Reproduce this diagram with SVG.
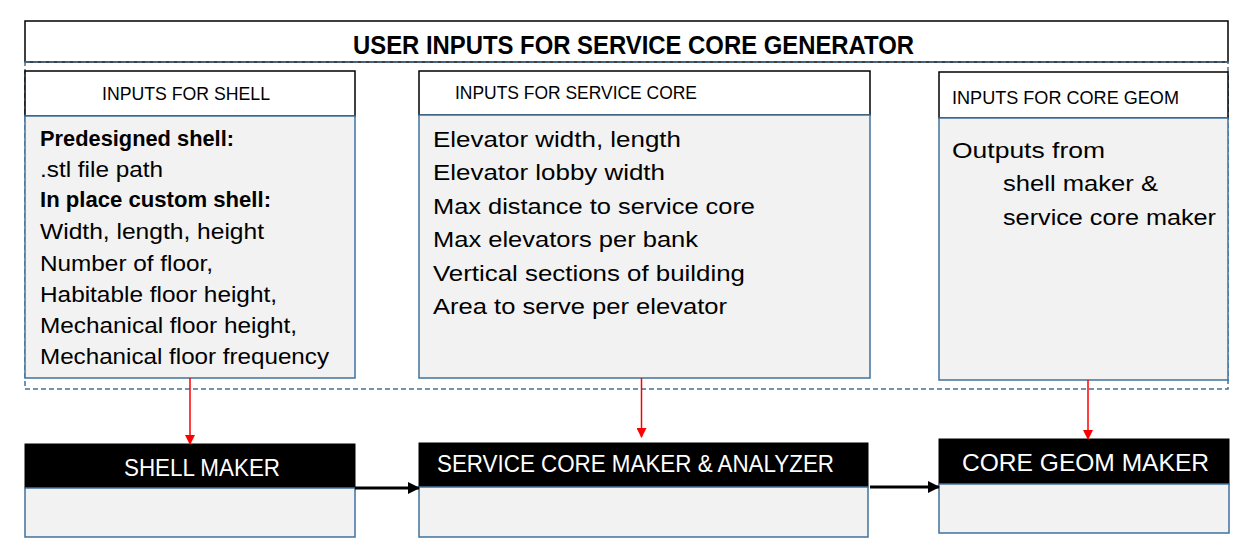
<svg xmlns="http://www.w3.org/2000/svg" width="1253" height="559" viewBox="0 0 1253 559">
<style>
text{font-family:"Liberation Sans",Arial,sans-serif;fill:#000}
.hdr{fill:#fff;stroke:#000;stroke-width:1.5}
.body{fill:#f2f2f2;stroke:#41719c;stroke-width:1.5}
.blk{fill:#000;stroke:#000;stroke-width:1}
.h{font-size:18.5px}
.t{font-size:22px}
.b{font-size:22px;font-weight:bold}
.w{font-size:24px;fill:#fff}
.red{stroke:#ff0000;stroke-width:1.5;fill:none}
.arr{stroke:#000;stroke-width:3;fill:none}
</style>
<defs>
<marker id="ra" markerWidth="10" markerHeight="10" refX="9" refY="5" orient="auto" markerUnits="userSpaceOnUse"><path d="M0,0 L10,5 L0,10 Z" fill="#ff0000"/></marker>
<marker id="ba" markerWidth="12" markerHeight="12" refX="11" refY="6" orient="auto" markerUnits="userSpaceOnUse"><path d="M0,0 L12,6 L0,12 Z" fill="#000"/></marker>
</defs>
<rect width="1253" height="559" fill="#fff"/>
<g id="title">
<rect x="25" y="21" width="1203" height="41" fill="#fff" stroke="#000" stroke-width="1.5"/>
<text x="353" y="54" font-size="26" font-weight="bold" textLength="561" lengthAdjust="spacingAndGlyphs">USER INPUTS FOR SERVICE CORE GENERATOR</text>
</g>
<g id="container">
<rect x="25" y="62" width="1203" height="327" fill="none" stroke="#41719c" stroke-width="1.5" stroke-dasharray="5,3"/>
</g>
<g id="inputs-shell">
<rect class="hdr" x="25" y="71" width="330" height="45"/>
<text class="h" x="102" y="100" textLength="168" lengthAdjust="spacingAndGlyphs">INPUTS FOR SHELL</text>
<rect class="body" x="25" y="116" width="330" height="262"/>
<text class="b" x="40" y="146" textLength="194" lengthAdjust="spacingAndGlyphs">Predesigned shell:</text>
<text class="t" x="40" y="177" textLength="123" lengthAdjust="spacingAndGlyphs">.stl file path</text>
<text class="b" x="40" y="207" textLength="231" lengthAdjust="spacingAndGlyphs">In place custom shell:</text>
<text class="t" x="40" y="239" textLength="224" lengthAdjust="spacingAndGlyphs">Width, length, height</text>
<text class="t" x="40" y="271" textLength="173" lengthAdjust="spacingAndGlyphs">Number of floor,</text>
<text class="t" x="40" y="302" textLength="237" lengthAdjust="spacingAndGlyphs">Habitable floor height,</text>
<text class="t" x="40" y="333" textLength="257" lengthAdjust="spacingAndGlyphs">Mechanical floor height,</text>
<text class="t" x="40" y="364" textLength="289" lengthAdjust="spacingAndGlyphs">Mechanical floor frequency</text>
</g>
<g id="inputs-service-core">
<rect class="hdr" x="419" y="71" width="451" height="44"/>
<text class="h" x="455" y="99" textLength="242" lengthAdjust="spacingAndGlyphs">INPUTS FOR SERVICE CORE</text>
<rect class="body" x="419" y="115" width="451" height="263"/>
<text class="t" x="433" y="147" textLength="248" lengthAdjust="spacingAndGlyphs">Elevator width, length</text>
<text class="t" x="433" y="180" textLength="232" lengthAdjust="spacingAndGlyphs">Elevator lobby width</text>
<text class="t" x="433" y="214" textLength="322" lengthAdjust="spacingAndGlyphs">Max distance to service core</text>
<text class="t" x="433" y="247" textLength="265" lengthAdjust="spacingAndGlyphs">Max elevators per bank</text>
<text class="t" x="433" y="281" textLength="312" lengthAdjust="spacingAndGlyphs">Vertical sections of building</text>
<text class="t" x="433" y="314" textLength="294" lengthAdjust="spacingAndGlyphs">Area to serve per elevator</text>
</g>
<g id="inputs-core-geom">
<rect class="hdr" x="939" y="72" width="289" height="46"/>
<text class="h" x="952" y="104" textLength="227" lengthAdjust="spacingAndGlyphs">INPUTS FOR CORE GEOM</text>
<rect class="body" x="939" y="118" width="289" height="262"/>
<text class="t" x="952" y="158" textLength="153" lengthAdjust="spacingAndGlyphs">Outputs from</text>
<text class="t" x="1003" y="191" textLength="155" lengthAdjust="spacingAndGlyphs">shell maker &amp;</text>
<text class="t" x="1003" y="225" textLength="213" lengthAdjust="spacingAndGlyphs">service core maker</text>
</g>
<g id="shell-maker">
<rect class="blk" x="25" y="444" width="330" height="44"/>
<rect class="body" x="25" y="488" width="330" height="49"/>
<text class="w" x="124" y="476" textLength="156" lengthAdjust="spacingAndGlyphs">SHELL MAKER</text>
</g>
<g id="service-core-maker">
<rect class="blk" x="419" y="443" width="449" height="44"/>
<rect class="body" x="419" y="487" width="449" height="50"/>
<text class="w" x="437" y="472" textLength="397" lengthAdjust="spacingAndGlyphs">SERVICE CORE MAKER &amp; ANALYZER</text>
</g>
<g id="core-geom-maker">
<rect class="blk" x="939" y="439" width="290" height="45"/>
<rect class="body" x="939" y="484" width="290" height="49"/>
<text class="w" x="962" y="471" textLength="247" lengthAdjust="spacingAndGlyphs">CORE GEOM MAKER</text>
</g>
<g id="connectors">
<line class="red" x1="190" y1="378" x2="190" y2="444" marker-end="url(#ra)"/>
<line class="red" x1="641.5" y1="378" x2="641.5" y2="437" marker-end="url(#ra)"/>
<line class="red" x1="1088" y1="380" x2="1088" y2="439" marker-end="url(#ra)"/>
<line class="arr" x1="355" y1="488" x2="419" y2="488" marker-end="url(#ba)"/>
<line class="arr" x1="870" y1="487" x2="939" y2="487" marker-end="url(#ba)"/>
</g>
</svg>
